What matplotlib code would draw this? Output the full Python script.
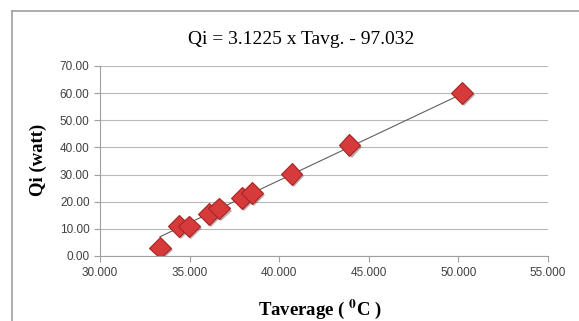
import numpy as np
import matplotlib
matplotlib.use("Agg")
import matplotlib.pyplot as plt
import matplotlib.patheffects as pe
from matplotlib.lines import Line2D

# data
t_avg = [33.34, 34.42, 34.97, 36.07, 36.64, 37.93, 38.48, 40.69, 43.92, 50.19]
qi = [3.1, 11.0, 10.9, 15.4, 17.5, 21.4, 23.1, 30.3, 40.9, 60.1]
slope, intercept = 3.1225, -97.032

x_ticks = [30, 35, 40, 45, 50, 55]
y_ticks = [0, 10, 20, 30, 40, 50, 60, 70]

plt.rcParams['mathtext.fontset'] = 'stix'

fig = plt.figure(figsize=(5.79, 3.21), dpi=100)
ax = fig.add_axes([0.1727, 0.2025, 0.7738, 0.5919])

# chart frame (left and top border)
fig.add_artist(Line2D([12/579, 12/579], [0, 1 - 11/321], transform=fig.transFigure,
                      color='#a0a0a0', lw=1.2))
fig.add_artist(Line2D([12/579, 1], [1 - 11/321, 1 - 11/321], transform=fig.transFigure,
                      color='#a0a0a0', lw=1.2))

# trendline
xs = np.array([min(t_avg), max(t_avg)])
ax.plot(xs, slope * xs + intercept, color='#606060', lw=0.8, zorder=2)

ax.plot(t_avg, qi, linestyle='none', marker='D', markersize=11,
        markerfacecolor='#d63a3a', markeredgecolor='#a82424', markeredgewidth=0.8,
        zorder=3,
        path_effects=[pe.SimplePatchShadow(offset=(1.5, -1.5), alpha=0.35), pe.Normal()])

ax.set_xlim(30, 55)
ax.set_ylim(0, 70)
ax.set_xticks(x_ticks)
ax.set_yticks(y_ticks)
ax.set_xticklabels([f'{v:.3f}' for v in x_ticks])
ax.set_yticklabels([f'{v:.2f}' for v in y_ticks])
ax.tick_params(labelsize=8.5, labelcolor='#404040', color='#a0a0a0', length=4, width=0.8)
ax.tick_params(axis='x', pad=4)
for lab in ax.get_xticklabels() + ax.get_yticklabels():
    lab.set_fontfamily('Liberation Sans')

ax.grid(axis='y', color='#b8b8b8', lw=0.8)
ax.set_axisbelow(True)
for s in ['top', 'right']:
    ax.spines[s].set_visible(False)
for s in ['left', 'bottom']:
    ax.spines[s].set_color('#a0a0a0')
    ax.spines[s].set_linewidth(0.8)

fig.text(0.52, 1 - 40/321, 'Qi = 3.1225 x Tavg. - 97.032', ha='center', va='center',
         fontsize=14, family='Liberation Serif')
fig.text(38/579, 1 - 160/321, 'Qi (watt)', rotation=90, ha='center', va='center',
         fontsize=13.5, fontweight='bold', family='Liberation Serif')
fig.text(320/579, 1 - 309/321, r'Taverage ( $^{\mathbf{0}}$C )', ha='center', va='center',
         fontsize=13.5, fontweight='bold', family='Liberation Serif')

fig.savefig('out.png', dpi=100)
